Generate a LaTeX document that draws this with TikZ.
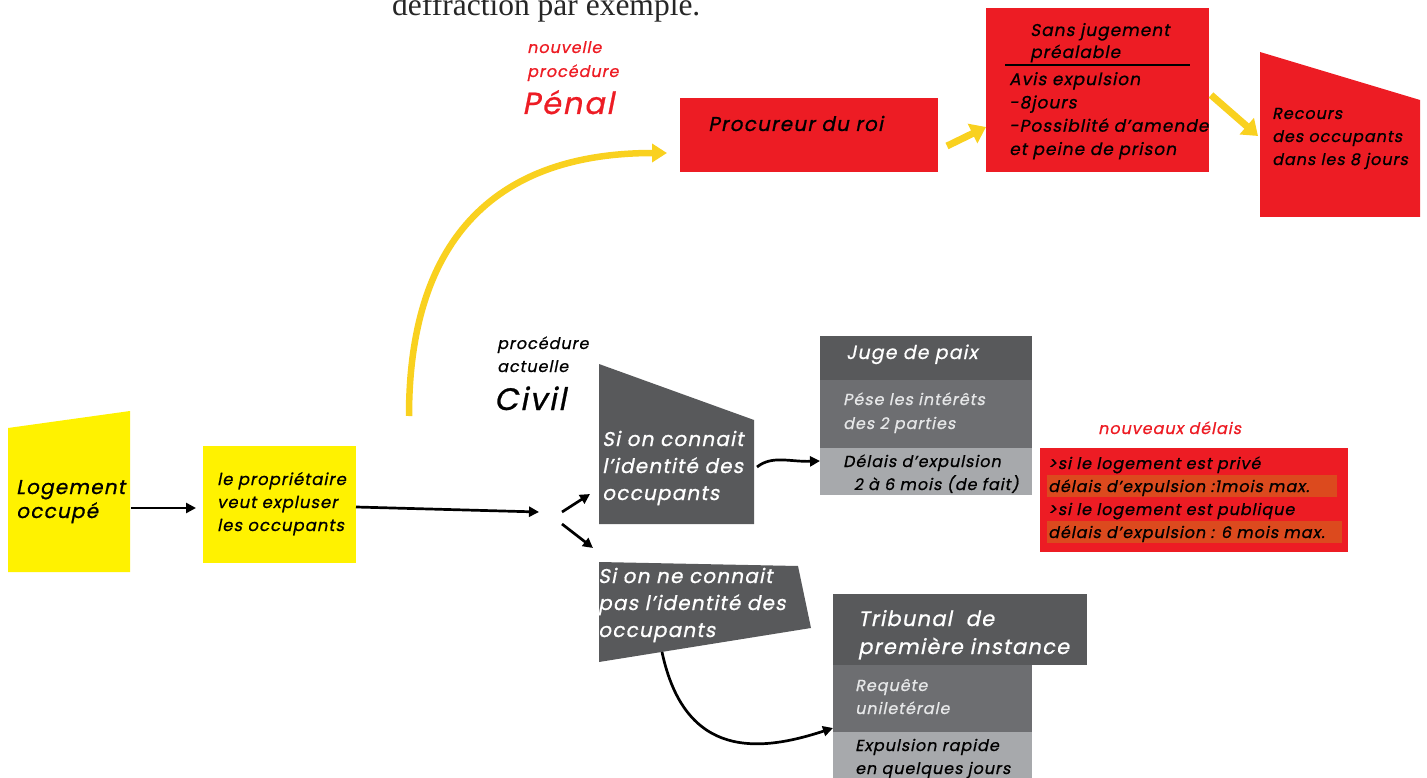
\documentclass[tikz,border=0pt]{standalone}
\usepackage{fontspec}
\newfontfamily\gf[FakeSlant=0.2, FakeBold=0.8, LetterSpace=6]{Poppins}
\newfontfamily\serf{Liberation Serif}
\usetikzlibrary{arrows.meta}
\definecolor{rd}{HTML}{ED1C24}
\definecolor{yl}{HTML}{FFF200}
\definecolor{ya}{HTML}{F9D11F}
\definecolor{dg}{HTML}{58595B}
\definecolor{mg}{HTML}{6D6E71}
\definecolor{lg}{HTML}{A7A9AC}
\definecolor{lt}{HTML}{E6E7E8}
\definecolor{hl}{HTML}{DC4A1E}
\tikzset{
  txt/.style={anchor=base west, align=left, inner sep=0pt, font=\gf\fontsize{16}{23}\selectfont},
  boxn/.style={anchor=north west, inner sep=0pt, outer sep=0pt},
  blk/.style={-{Triangle[length=10pt,width=10pt]}, line width=2.7pt, black},
  yarr/.style={-{Triangle[length=15pt,width=18pt]}, line width=6.5pt, ya},
}
\begin{document}
\begin{tikzpicture}[x=1pt,y=-1pt]
\useasboundingbox (0,0) rectangle (1427,778);
\clip (0,0) rectangle (1427,778);

% top cropped text
\node[anchor=base west, inner sep=0, font=\serf\fontsize{31.5}{31.5}\selectfont, text=black!85] (topt) at (392,16) {deffraction par exemple.};

% Penal labels
\node[txt, text=rd, font=\gf\fontsize{16}{24}\selectfont] (nouv) at (527,77) {nouvelle\\ procédure};
\node[txt, text=rd, font=\gf\fontsize{30.5}{31}\selectfont] (penal) at (522,114) {Pénal};

% Procureur
\node[boxn, fill=rd, minimum width=258, minimum height=74] (proc) at (680,98) {};
\node[txt, font=\gf\fontsize{20}{23}\selectfont] (proct) at (708,131) {Procureur du roi};

% Sans jugement box
\node[boxn, fill=rd, minimum width=223, minimum height=164] (sans) at (986,8) {};
\node[txt, font=\gf\fontsize{17}{22}\selectfont] (sanst) at (1030,58) {Sans jugement\\préalable};
\draw[line width=2.5pt] (sans.north west) ++(19,57) coordinate (ls) -- ++(185,0) coordinate (le);
\node[txt, font=\gf\fontsize{17}{23.3}\selectfont] (avis) at (1009,155) {Avis expulsion\\-8jours\\-Possiblité d’amende\\et peine de prison};

% Recours
\fill[rd] (1260,52) -- (1420,100) -- (1420,217) -- (1260,217) -- cycle;
\coordinate (recW) at (1258,136);
\node[txt] (rect) at (1272,165) {Recours\\des occupants\\dans les 8 jours};

% yellow arrows
\coordinate (procE) at (947,146);
\coordinate (sansW) at (986,127);
\draw[yarr, line width=7pt, -{Triangle[length=15pt,width=21pt]}] (procE) -- (sansW);
\coordinate (sansE) at (1211,95);
\draw[yarr, line width=7pt, -{Triangle[length=15pt,width=21pt]}] (sansE) -- (recW);

% big curved yellow arrow
\coordinate (cstart) at (409,416);
\coordinate (cend) at (667,153);
\draw[yarr] (cstart) .. controls (409,245) and (490,153) .. (cend);

% Civil labels
\node[txt] (proca) at (497,372) {procédure\\actuelle};
\node[txt, font=\gf\fontsize{31}{31}\selectfont] (civil) at (494,410) {Civil};

% Logement
\fill[yl] (8,428) -- (130,411) -- (130,572) -- (8,572) -- cycle;
\node[txt, font=\gf\fontsize{20}{24}\selectfont] (logt) at (16,518) {Logement\\occupé};
\coordinate (logE) at (131,508);

% proprietaire
\node[boxn, fill=yl, minimum width=153, minimum height=117] (prop) at (203,446) {};
\node[txt, font=\gf\fontsize{16.5}{23}\selectfont] (propt) at (217,531) {le propriétaire\\veut expluser\\les occupants};
\coordinate (propE) at (356,507);
\coordinate (split) at (539,512);
\draw[blk, shorten >=7pt] (logE) -- (prop.west |- logE);
\draw[blk] (propE) -- (split);

% split arrows
\coordinate (s1a) at (562,512);
\coordinate (s1b) at (590,494);
\coordinate (s2a) at (562,524);
\coordinate (s2b) at (593,548);
\draw[blk] (s1a) -- (s1b);
\draw[blk] (s2a) -- (s2b);

% Si on connait
\fill[dg] (599,364) -- (754,420) -- (754,524) -- (599,524) -- cycle;
\node[txt, font=\gf\fontsize{20}{27}\selectfont, text=white] (sic) at (602,500) {Si on connait\\l’identité des\\occupants};
\coordinate (sicE) at (757,467);

% Juge de paix stack
\node[boxn, fill=dg, minimum width=212, minimum height=44] (juge) at (820,336) {};
\node[boxn, fill=mg, minimum width=212, minimum height=68] (pese) at (820,380) {};
\node[boxn, fill=lg, minimum width=212, minimum height=47] (dela) at (820,448) {};
\node[txt, font=\gf\fontsize{19}{23}\selectfont, text=white] (juget) at (846,359) {Juge de paix};
\node[txt, text=lt, font=\gf\fontsize{16}{24}\selectfont] (peset) at (843,429) {Pése les intérêts\\des 2 parties};
\node[txt] (delat) at (843,490) {Délais d’expulsion\\\ \ 2 à 6 mois (de fait)};
\draw[blk] (sicE) .. controls (772,455) and (790,462) .. (dela.west |- 0,461);

% nouveaux delais
\node[txt, text=rd] (nd) at (1098,434) {nouveaux délais};
\node[boxn, fill=rd, minimum width=308, minimum height=104] (ndbox) at (1040,448) {};
\fill[hl] (1047,475) rectangle (1337,497);
\fill[hl] (1047,521) rectangle (1342,543);
\node[txt] (ndt) at (1048,538) {>si le logement est privé\\délais d’expulsion :1mois max.\\>si le logement est publique\\délais d’expulsion : 6 mois max.};

% Si on ne connait
\fill[dg] (599,562) -- (798,566) -- (811,628) -- (599,662) -- cycle;
\node[txt, font=\gf\fontsize{20}{27}\selectfont, text=white] (sinc) at (598,637) {Si on ne connait\\pas l’identité des\\occupants};
\coordinate (sincS) at (662,652);

% Tribunal stack
\node[boxn, fill=dg, minimum width=254, minimum height=71] (trib) at (833,594) {};
\node[boxn, fill=mg, minimum width=199, minimum height=67] (req) at (833,665) {};
\node[boxn, fill=lg, minimum width=199, minimum height=60] (exp) at (833,732) {};
\node[txt, font=\gf\fontsize{21}{28}\selectfont, text=white] (tribt) at (858,654) {Tribunal\ \ de\\première instance};
\node[txt, text=lt] (reqt) at (855,714) {Requête\\uniletérale};
\node[txt] (expt) at (855,774) {Expulsion rapide\\en quelques jours};
\draw[blk] (sincS) .. controls (685,760) and (760,752) .. (req.west |- 0,728);

\end{tikzpicture}
\end{document}
